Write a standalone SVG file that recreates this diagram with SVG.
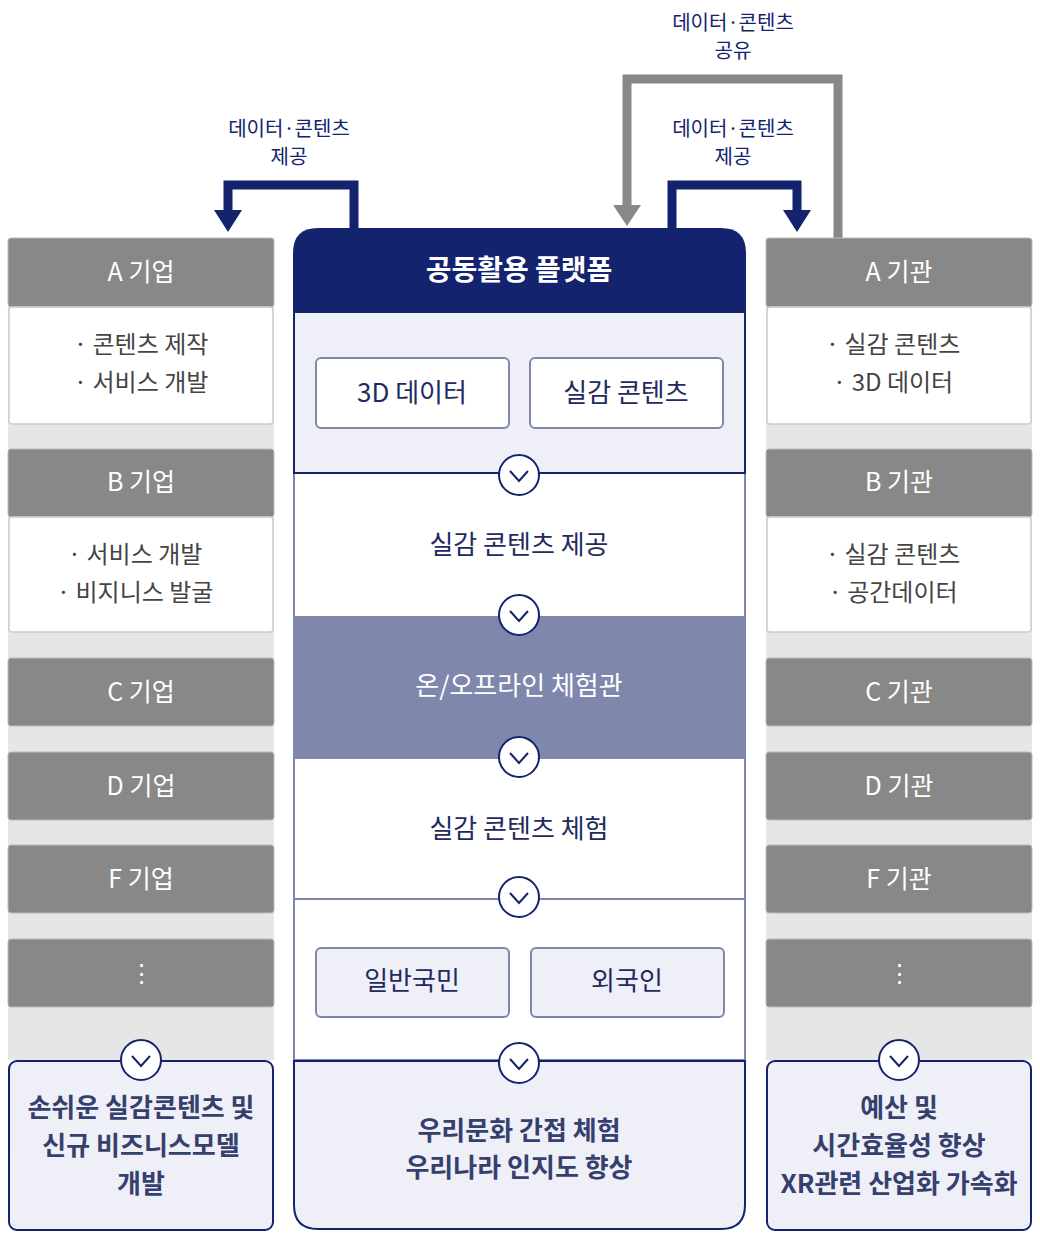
<svg xmlns="http://www.w3.org/2000/svg" width="1040" height="1249" viewBox="0 0 1040 1249">
<style>
text{font-family:"Noto Sans CJK KR","Noto Sans",sans-serif;text-anchor:middle}
.hd{fill:#888;stroke:#bbb;stroke-width:1}
.ht{fill:#fff;font-size:25px}
.bd{fill:#fff;stroke:#ccc;stroke-width:1.5}
.bt{fill:#444;font-size:24px}
.nv{fill:#14236e}
.st{fill:#222a5e;font-size:26px}
.btn{fill:#fff;stroke:#7f87ac;stroke-width:2}
.btn2{fill:#eff0f7;stroke:#7f87ac;stroke-width:2}
.res{fill:#36406e;font-size:26px;font-weight:bold}
.lbl{fill:#14236e;font-size:20px}
.circ{fill:#fff;stroke:#14236e;stroke-width:2}
.chev{fill:none;stroke:#14236e;stroke-width:2}
</style>
<defs>
<g id="cv"><circle class="circ" r="20"/><path class="chev" d="M-9,-4 L0,6 L9,-4"/></g>
</defs>
<g id="connectors">
<path d="M354,228 V185 H228 V212" fill="none" stroke="#14236e" stroke-width="9"/>
<polygon points="214,210 242,210 228,232" fill="#14236e"/>
<path d="M672,228 V185 H797 V212" fill="none" stroke="#14236e" stroke-width="9"/>
<polygon points="783,210 811,210 797,232" fill="#14236e"/>
<path d="M838,238 V79 H627 V208" fill="none" stroke="#888" stroke-width="9"/>
<polygon points="613,205 641,205 627,226" fill="#888"/>
<text class="lbl" x="289" y="136">데이터·콘텐츠</text><text class="lbl" x="289" y="164">제공</text>
<text class="lbl" x="733" y="136">데이터·콘텐츠</text><text class="lbl" x="733" y="164">제공</text>
<text class="lbl" x="733" y="30">데이터·콘텐츠</text><text class="lbl" x="733" y="58">공유</text>
</g>
<g id="left">
<rect x="8" y="238" width="266" height="822" fill="#e6e6e6"/>
<rect class="hd" x="8" y="238" width="266" height="69" rx="3"/><text class="ht" x="141" y="281">A 기업</text>
<rect class="bd" x="9" y="307" width="264" height="117" rx="3"/><text class="bt" x="141" y="353">· 콘텐츠 제작</text><text class="bt" x="141" y="391">· 서비스 개발</text>
<rect class="hd" x="8" y="449" width="266" height="68" rx="3"/><text class="ht" x="141" y="491">B 기업</text>
<rect class="bd" x="9" y="517" width="264" height="115" rx="3"/><text class="bt" x="135" y="563">· 서비스 개발</text><text class="bt" x="135" y="601">· 비지니스 발굴</text>
<rect class="hd" x="8" y="658" width="266" height="68" rx="3"/><text class="ht" x="141" y="701">C 기업</text>
<rect class="hd" x="8" y="752" width="266" height="68" rx="3"/><text class="ht" x="141" y="795">D 기업</text>
<rect class="hd" x="8" y="845" width="266" height="68" rx="3"/><text class="ht" x="141" y="888">F 기업</text>
<rect class="hd" x="8" y="939" width="266" height="68" rx="3"/><text class="ht" x="141" y="982">⋮</text>
<rect class="btn2" x="9" y="1061" width="264" height="169" rx="8" style="stroke:#14236e"/>
<use href="#cv" x="141" y="1060"/>
<text class="res" x="141" y="1117">손쉬운 실감콘텐츠 및</text><text class="res" x="141" y="1155">신규 비즈니스모델</text><text class="res" x="141" y="1193">개발</text>
</g>
<g id="right">
<rect x="766" y="238" width="266" height="822" fill="#e6e6e6"/>
<rect class="hd" x="766" y="238" width="266" height="69" rx="3"/><text class="ht" x="899" y="281">A 기관</text>
<rect class="bd" x="767" y="307" width="264" height="117" rx="3"/><text class="bt" x="893" y="353">· 실감 콘텐츠</text><text class="bt" x="893" y="391">· 3D 데이터</text>
<rect class="hd" x="766" y="449" width="266" height="68" rx="3"/><text class="ht" x="899" y="491">B 기관</text>
<rect class="bd" x="767" y="517" width="264" height="115" rx="3"/><text class="bt" x="893" y="563">· 실감 콘텐츠</text><text class="bt" x="893" y="601">· 공간데이터</text>
<rect class="hd" x="766" y="658" width="266" height="68" rx="3"/><text class="ht" x="899" y="701">C 기관</text>
<rect class="hd" x="766" y="752" width="266" height="68" rx="3"/><text class="ht" x="899" y="795">D 기관</text>
<rect class="hd" x="766" y="845" width="266" height="68" rx="3"/><text class="ht" x="899" y="888">F 기관</text>
<rect class="hd" x="766" y="939" width="266" height="68" rx="3"/><text class="ht" x="899" y="982">⋮</text>
<rect class="btn2" x="767" y="1061" width="264" height="169" rx="8" style="stroke:#14236e"/>
<use href="#cv" x="899" y="1060"/>
<text class="res" x="899" y="1117">예산 및</text><text class="res" x="899" y="1155">시간효율성 향상</text><text class="res" x="899" y="1193">XR관련 산업화 가속화</text>
</g>
<g id="center">
<path d="M294,1060 V899 H745 V1060 Z" fill="#fff" stroke="#7f87ac" stroke-width="2"/>
<path d="M294,473 V899 H745 V473 Z" fill="#fff" stroke="#7f87ac" stroke-width="2"/>
<rect x="294" y="616" width="451" height="143" fill="#7f87ac"/>
<rect x="294" y="312" width="451" height="161" fill="#eff0f7" stroke="#14236e" stroke-width="2"/>
<path d="M293,312 V253 Q293,228 318,228 H721 Q746,228 746,253 V312 Z" class="nv"/>
<text x="519" y="280" fill="#fff" font-size="28" font-weight="bold">공동활용 플랫폼</text>
<rect class="btn" x="316" y="358" width="193" height="70" rx="5"/><text class="st" x="412" y="402">3D 데이터</text>
<rect class="btn" x="530" y="358" width="193" height="70" rx="5"/><text class="st" x="626" y="402">실감 콘텐츠</text>
<text class="st" x="519" y="554">실감 콘텐츠 제공</text>
<text x="519" y="695" fill="#fff" font-size="26">온/오프라인 체험관</text>
<text class="st" x="519" y="838">실감 콘텐츠 체험</text>
<rect class="btn2" x="316" y="948" width="193" height="69" rx="5"/><text class="st" x="412" y="990">일반국민</text>
<rect class="btn2" x="531" y="948" width="193" height="69" rx="5"/><text class="st" x="627" y="990">외국인</text>
<path d="M294,1061 H745 V1205 Q745,1229 721,1229 H318 Q294,1229 294,1205 Z" fill="#eff0f7" stroke="#14236e" stroke-width="2"/>
<text class="res" x="519" y="1140">우리문화 간접 체험</text><text class="res" x="519" y="1177">우리나라 인지도 향상</text>
<use href="#cv" x="519" y="475"/><use href="#cv" x="519" y="615"/><use href="#cv" x="519" y="757"/><use href="#cv" x="519" y="897"/><use href="#cv" x="519" y="1063"/>
</g>
</svg>
